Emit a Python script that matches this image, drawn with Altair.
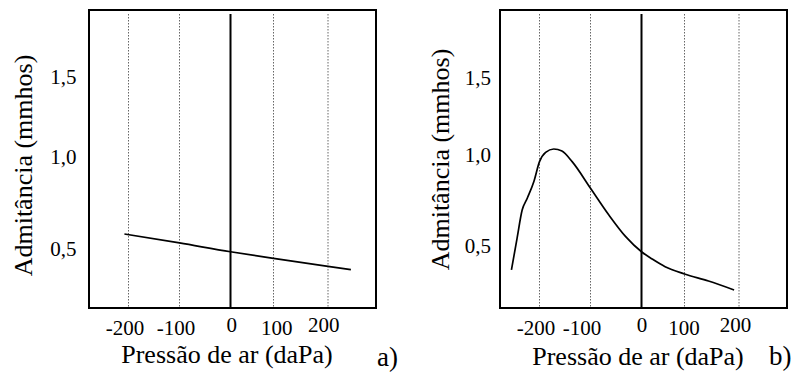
import altair as alt
import pandas as pd

# ---- data ----
pressure_a = [-208, -100, 0, 100, 200, 242]
admit_a = [0.582, 0.533, 0.485, 0.449, 0.405, 0.387]

pressure_b = [-255, -244, -234, -224, -211, -200, -188, -172, -156, -136,
              -100, -64, -31, 0, 25, 55, 100, 144, 191]
admit_b = [0.370, 0.544, 0.699, 0.764, 0.856, 0.965, 1.019, 1.041, 1.028, 0.965,
           0.819, 0.672, 0.553, 0.470, 0.430, 0.388, 0.348, 0.309, 0.260]

x_ticks = [-200, -100, 0, 100, 200]
y_ticks = [0.5, 1.0, 1.5]
grid_dotted = [-200, -100, 100, 200]
grid_zero = [0]

x_title = "Pressão de ar (daPa)"
y_title = "Admitância (mmhos)"
panel_labels = ["a)", "b)"]

FONT = "'Liberation Serif', 'Times New Roman', 'DejaVu Serif', serif"
W, H = 287, 298
X_RANGE = [39.5, 90.5, 141.5, 184.5, 239]


def panel(px, py, label, y_range, lab_pad_y, title_pad_y, title_y,
          title_pad_x, x_offsets, text_x, text_y):
    off_cond = [{"test": f"datum.value == {v}", "value": o} for v, o in zip(x_ticks, x_offsets)]
    x_enc = alt.X(
        "pressure:Q",
        scale=alt.Scale(domain=x_ticks, range=X_RANGE, zero=False, nice=False),
        axis=alt.Axis(
            values=x_ticks, title=x_title, grid=False, ticks=False, tickSize=0, domain=False,
            labelOverlap=False, labelFlush=False,
            labelExpr="'' + datum.value", labelFont=FONT, labelFontSize=21, labelColor="black",
            labelPadding={"condition": {"test": "datum.value == 0 || datum.value == 200", "value": 6},
                          "value": 9.5},
            labelOffset={"condition": off_cond, "value": 0},
            titleFont=FONT, titleFontSize=26, titleFontWeight="normal", titleColor="black",
            titlePadding=title_pad_x, titleX=137.5,
        ),
    )
    y_axis = alt.Axis(
        values=y_ticks, title=y_title, grid=False, ticks=False, tickSize=0, domain=False,
        labelOverlap=False, labelFlush=False,
        labelExpr="replace(format(datum.value, '.1f'), '.', ',')",
        labelFont=FONT, labelFontSize=21, labelColor="black", labelPadding=lab_pad_y,
        titleFont=FONT, titleFontSize=26, titleFontWeight="normal", titleColor="black",
        titlePadding=title_pad_y, titleY=title_y,
    )
    y_enc = alt.Y("admit:Q", scale=alt.Scale(domain=y_ticks, range=y_range, zero=False, nice=False),
                  axis=y_axis)

    dotted = alt.Chart(pd.DataFrame({"pressure": grid_dotted})).mark_rule(
        color="#666666", strokeWidth=1, strokeDash=[1.5, 1.5]
    ).encode(x=x_enc, y=alt.value(4), y2=alt.value(H))
    zero = alt.Chart(pd.DataFrame({"pressure": grid_zero})).mark_rule(
        color="black", strokeWidth=2
    ).encode(x=x_enc, y=alt.value(4), y2=alt.value(H))
    line = alt.Chart(pd.DataFrame({"pressure": px, "admit": py})).mark_line(
        color="black", strokeWidth=1.7, interpolate="monotone"
    ).encode(x=x_enc, y=y_enc, order=alt.Order("pressure:Q"))
    txt = alt.Chart(pd.DataFrame({"label": [label]})).mark_text(
        align="left", baseline="middle", font=FONT, fontSize=27, color="black"
    ).encode(text="label:N", x=alt.value(text_x), y=alt.value(text_y))
    return alt.layer(dotted, zero, line, txt).properties(width=W, height=H)


pa = panel(pressure_a, admit_a, panel_labels[0], [239.0, 147.4, 67.4], 13, 13.5, 155, 3,
           [-4, -4, 0.7, 2.7, -4.7], 288, 348)
pb = panel(pressure_b, admit_b, panel_labels[1], [236.3, 145.3, 68.3], 9.5, 11, 149, 5,
           [-4, -9, 0, -1, -4], 269, 347)

chart = alt.hconcat(pa, pb, spacing=27).properties(
    padding={"left": 1, "top": 1, "right": 0, "bottom": 0},
    background="white",
).configure_view(stroke="black", strokeWidth=2)

chart.save("out.html", embed_options={"renderer": "svg", "actions": False})
